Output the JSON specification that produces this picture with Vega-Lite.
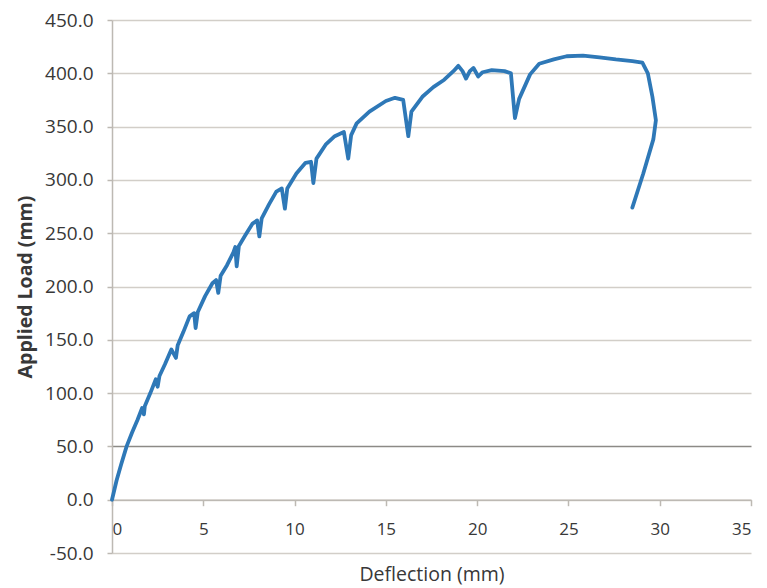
{
  "$schema": "https://vega.github.io/schema/vega-lite/v6.json",
  "width": 639,
  "height": 533,
  "autosize": {"type": "none"},
  "padding": {"left": 112, "top": 20, "right": 16, "bottom": 35},
  "background": "#ffffff",
  "config": {
    "view": {"stroke": null},
    "font": "Open Sans",
    "axis": {
      "labelFont": "Open Sans",
      "titleFont": "Open Sans",
      "labelColor": "#383838",
      "titleColor": "#383838",
      "labelFontSize": 17,
      "titleFontSize": 19.5
    }
  },
  "data": {
    "values": [
      {"i": 0, "deflection": 0, "load": 0},
      {"i": 1, "deflection": 0.25, "load": 18},
      {"i": 2, "deflection": 0.5, "load": 33},
      {"i": 3, "deflection": 0.8, "load": 50},
      {"i": 4, "deflection": 1.1, "load": 63},
      {"i": 5, "deflection": 1.4, "load": 75},
      {"i": 6, "deflection": 1.65, "load": 86},
      {"i": 7, "deflection": 1.75, "load": 80},
      {"i": 8, "deflection": 1.8, "load": 88},
      {"i": 9, "deflection": 2.1, "load": 100},
      {"i": 10, "deflection": 2.4, "load": 113},
      {"i": 11, "deflection": 2.5, "load": 106},
      {"i": 12, "deflection": 2.6, "load": 116},
      {"i": 13, "deflection": 2.9, "load": 127},
      {"i": 14, "deflection": 3.25, "load": 141},
      {"i": 15, "deflection": 3.5, "load": 133},
      {"i": 16, "deflection": 3.6, "load": 145},
      {"i": 17, "deflection": 3.9, "load": 157},
      {"i": 18, "deflection": 4.25, "load": 172},
      {"i": 19, "deflection": 4.5, "load": 175},
      {"i": 20, "deflection": 4.58, "load": 161},
      {"i": 21, "deflection": 4.7, "load": 176},
      {"i": 22, "deflection": 5.1, "load": 191},
      {"i": 23, "deflection": 5.5, "load": 203},
      {"i": 24, "deflection": 5.7, "load": 206},
      {"i": 25, "deflection": 5.82, "load": 194},
      {"i": 26, "deflection": 5.95, "load": 210},
      {"i": 27, "deflection": 6.3, "load": 220},
      {"i": 28, "deflection": 6.65, "load": 232},
      {"i": 29, "deflection": 6.75, "load": 237},
      {"i": 30, "deflection": 6.83, "load": 219},
      {"i": 31, "deflection": 6.95, "load": 238},
      {"i": 32, "deflection": 7.3, "load": 248},
      {"i": 33, "deflection": 7.7, "load": 259},
      {"i": 34, "deflection": 7.95, "load": 262},
      {"i": 35, "deflection": 8.07, "load": 247},
      {"i": 36, "deflection": 8.2, "load": 264},
      {"i": 37, "deflection": 8.6, "load": 277},
      {"i": 38, "deflection": 9.0, "load": 289},
      {"i": 39, "deflection": 9.3, "load": 292},
      {"i": 40, "deflection": 9.47, "load": 273},
      {"i": 41, "deflection": 9.6, "load": 292},
      {"i": 42, "deflection": 10.1, "load": 306},
      {"i": 43, "deflection": 10.6, "load": 316},
      {"i": 44, "deflection": 10.9, "load": 317},
      {"i": 45, "deflection": 11.03, "load": 297},
      {"i": 46, "deflection": 11.2, "load": 320},
      {"i": 47, "deflection": 11.7, "load": 333},
      {"i": 48, "deflection": 12.2, "load": 341},
      {"i": 49, "deflection": 12.7, "load": 345},
      {"i": 50, "deflection": 12.94, "load": 320},
      {"i": 51, "deflection": 13.1, "load": 342},
      {"i": 52, "deflection": 13.4, "load": 353},
      {"i": 53, "deflection": 14.1, "load": 364},
      {"i": 54, "deflection": 15.0, "load": 374},
      {"i": 55, "deflection": 15.5, "load": 377},
      {"i": 56, "deflection": 15.95, "load": 375},
      {"i": 57, "deflection": 16.23, "load": 341},
      {"i": 58, "deflection": 16.4, "load": 364},
      {"i": 59, "deflection": 17.0, "load": 378},
      {"i": 60, "deflection": 17.6, "load": 387},
      {"i": 61, "deflection": 18.2, "load": 394},
      {"i": 62, "deflection": 18.7, "load": 402},
      {"i": 63, "deflection": 18.97, "load": 407},
      {"i": 64, "deflection": 19.2, "load": 402},
      {"i": 65, "deflection": 19.39, "load": 395},
      {"i": 66, "deflection": 19.6, "load": 402},
      {"i": 67, "deflection": 19.8, "load": 405},
      {"i": 68, "deflection": 20.06, "load": 397},
      {"i": 69, "deflection": 20.3, "load": 401},
      {"i": 70, "deflection": 20.8, "load": 403},
      {"i": 71, "deflection": 21.5, "load": 402},
      {"i": 72, "deflection": 21.85, "load": 400},
      {"i": 73, "deflection": 22.07, "load": 358},
      {"i": 74, "deflection": 22.3, "load": 376},
      {"i": 75, "deflection": 22.9, "load": 399},
      {"i": 76, "deflection": 23.4, "load": 409},
      {"i": 77, "deflection": 24.2, "load": 413},
      {"i": 78, "deflection": 24.9, "load": 416},
      {"i": 79, "deflection": 25.8, "load": 416.5},
      {"i": 80, "deflection": 26.7, "load": 415},
      {"i": 81, "deflection": 27.6, "load": 413},
      {"i": 82, "deflection": 28.5, "load": 411.5},
      {"i": 83, "deflection": 29.05, "load": 410},
      {"i": 84, "deflection": 29.35, "load": 400},
      {"i": 85, "deflection": 29.6, "load": 378},
      {"i": 86, "deflection": 29.79, "load": 356},
      {"i": 87, "deflection": 29.65, "load": 338},
      {"i": 88, "deflection": 29.1, "load": 306},
      {"i": 89, "deflection": 28.5, "load": 274}
    ]
  },
  "mark": {"type": "line", "color": "#2e78b7", "strokeWidth": 3.8, "strokeJoin": "round", "strokeCap": "round"},
  "encoding": {
    "order": {"field": "i", "type": "quantitative"},
    "x": {
      "field": "deflection",
      "type": "quantitative",
      "scale": {"domain": [0, 35], "nice": false},
      "axis": {
        "title": "Deflection (mm)",
        "values": [0, 5, 10, 15, 20, 25, 30, 35],
        "grid": false,
        "offset": -53.3,
        "domainColor": "#bdb9b3",
        "domainWidth": 1.5,
        "tickColor": "#bdb9b3",
        "tickWidth": 1.5,
        "tickSize": 6,
        "labelPadding": 16,
        "titlePadding": 28,
        "titleFontWeight": "normal"
      }
    },
    "y": {
      "field": "load",
      "type": "quantitative",
      "scale": {"domain": [-50, 450], "nice": false, "zero": false},
      "axis": {
        "title": "Applied Load (mm)",
        "values": [-50, 0, 50, 100, 150, 200, 250, 300, 350, 400, 450],
        "labelExpr": "replace(format(datum.value, '.1f'), '\u2212', '-')",
        "labelFontSize": 19,
        "grid": true,
        "gridColor": {"condition": {"test": "datum.value === 50", "value": "#8c8a86"}, "value": "#d2cec8"},
        "gridWidth": 1.5,
        "domainColor": "#bdb9b3",
        "domainWidth": 1.5,
        "tickColor": "#bdb9b3",
        "tickWidth": 1.5,
        "tickSize": 5,
        "labelPadding": 14,
        "titlePadding": 9,
        "titleFontWeight": "bold"
      }
    }
  }
}
